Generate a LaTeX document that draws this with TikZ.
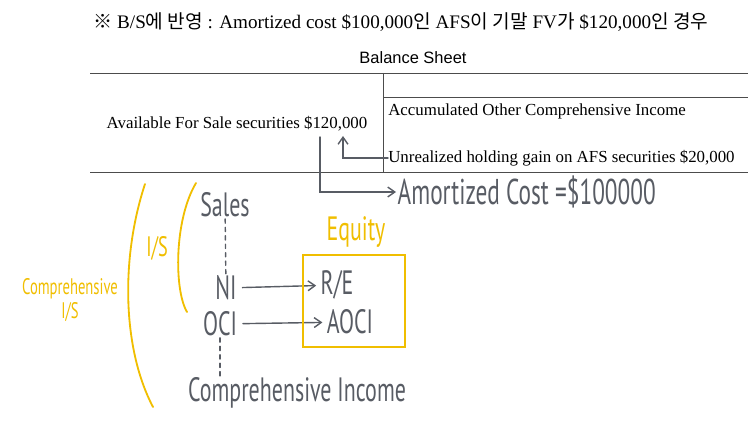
\documentclass[tikz,border=0pt]{standalone}
\usepackage{fontspec}
\setmainfont{Liberation Serif}
\newfontfamily\kr{Noto Sans CJK KR}
\newfontfamily\bsfont{Liberation Sans}
\newfontfamily\hand[FakeStretch=0.65]{PT Sans}
\usetikzlibrary{positioning,arrows.meta}
\definecolor{pen}{RGB}{88,92,100}
\definecolor{marker}{RGB}{240,190,0}
\tikzset{
  rule/.style={draw=black!70, line width=0.6pt},
  ink/.style={draw=pen, line width=1pt, line cap=round},
  inkarrow/.style={ink, -{Straight Barb[length=5pt,width=7pt]}},
  inktext/.style={text=pen, inner sep=1pt, font=\hand\fontsize{24}{26}\selectfont},
  hilite/.style={draw=marker, line width=1.3pt, line cap=round},
  hilitetext/.style={text=marker, inner sep=0pt, align=center},
  sheettext/.style={inner sep=0pt, font=\fontsize{12}{14}\selectfont}
}
\begin{document}
\begin{tikzpicture}[x=0.025cm,y=-0.025cm]
  \useasboundingbox (0,0) rectangle (748,439);
  \node[anchor=west, inner sep=0pt, font=\fontsize{13.6}{15}\selectfont] (title) at (93,22)
    {{\kr ※} B/S{\kr 에 반영} : Amortized cost \$100,000{\kr 인} AFS{\kr 이 기말} FV{\kr 가} \$120,000{\kr 인 경우}};
  \node[inner sep=0pt, font=\bsfont\fontsize{11.7}{13}\selectfont] (bs) at (413,58) {Balance Sheet};
  \draw[rule] (90,73) -- (748,73);
  \draw[rule] (383,73) -- (383,172);
  \draw[rule] (383,97) -- (748,97);
  \draw[rule] (90,172) -- (748,172);
  \node[sheettext] (afs) at (237,124) {Available For Sale securities \$120,000};
  \node[sheettext, anchor=west] (aoci) at (388,111) {Accumulated Other Comprehensive Income};
  \node[sheettext, anchor=west] (gain) at (388,158) {Unrealized holding gain on AFS securities \$20,000};

  \coordinate (raise) at (343,136);
  \coordinate (drop) at (320,137);
  \node[inktext, anchor=west, font=\hand\fontsize{25.5}{28}\selectfont] (cost) at (396,192) {Amortized Cost =\$100000};
  \draw[inkarrow] (gain.west) -| (raise);
  \draw[inkarrow] (drop) |- (cost.west);

  \node[inktext] (sales) at (225,205) {Sales};
  \node[inktext] (ni) at (226,288) {NI};
  \node[inktext] (oci) at (220,324) {OCI};
  \node[inktext] (ci) at (297,393) {Comprehensive Income};
  \node[inktext] (re) at (337,285) {R/E};
  \node[inktext] (aocinote) at (350,322) {AOCI};
  \draw[ink, dashed] (sales) -- (ni);
  \draw[ink, dashed] (oci) -- (oci |- ci.north);
  \draw[inkarrow, shorten <=3pt, shorten >=2pt] (ni) -- (re);
  \draw[inkarrow, shorten <=3pt, shorten >=2pt] (oci) -- (aocinote);

  \node[hilitetext, font=\hand\fontsize{24}{26}\selectfont] (equity) at (356,232) {Equity};
  \draw[hilite] (303,255) rectangle (405,347);
  \node[hilitetext, font=\hand\fontsize{20}{22}\selectfont] (is) at (157,248) {I/S};
  \node[hilitetext, font=\hand\fontsize{16}{17}\selectfont] (cis) at (70,300) {Comprehensive\\I/S};
  \draw[hilite] (196,183) .. controls (174,220) and (174,290) .. (187,312);
  \draw[hilite] (145,184) .. controls (120,260) and (123,350) .. (153,407);
\end{tikzpicture}
\end{document}
